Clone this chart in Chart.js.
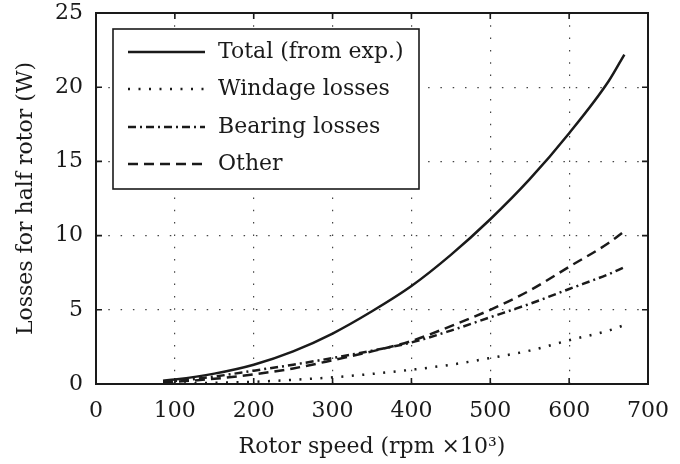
<!DOCTYPE html>
<html>
<head>
<meta charset="utf-8">
<script src="https://cdn.jsdelivr.net/npm/chart.js@4.4.0/dist/chart.umd.min.js"></script>
<style>
  html, body { margin: 0; padding: 0; background: #fff; }
  #wrap { width: 680px; height: 464px; }
</style>
</head>
<body>
<div id="wrap"><canvas id="lossChart" width="680" height="464"></canvas></div>
<script>
// rotor speed (rpm x10^3)
const speeds = [85, 100, 150, 200, 250, 300, 350, 400, 450, 500, 550, 600, 650, 670];
// losses for half rotor (W)
const totalLoss   = [0.22, 0.3, 0.7, 1.3, 2.2, 3.4, 4.9, 6.6, 8.7, 11.1, 13.8, 16.9, 20.4, 22.2];
const windageLoss = [0.02, 0.03, 0.08, 0.15, 0.28, 0.45, 0.68, 0.96, 1.3, 1.75, 2.25, 2.95, 3.6, 3.97];
const bearingLoss = [0.15, 0.2, 0.5, 0.9, 1.3, 1.75, 2.25, 2.8, 3.6, 4.5, 5.4, 6.4, 7.4, 7.87];
const otherLoss   = [0.1, 0.15, 0.35, 0.65, 1.05, 1.6, 2.2, 2.9, 3.9, 5.0, 6.3, 7.9, 9.5, 10.3];

const seriesLabels = ['Total (from exp.)', 'Windage losses', 'Bearing losses', 'Other'];
const xTicks = [0, 100, 200, 300, 400, 500, 600, 700];
const yTicks = [0, 5, 10, 15, 20, 25];

const FONT = 'DejaVu Serif';
const FSIZE = 22;
const INK = '#1a1a1a';

function toPoints(ys) {
    return speeds.map((s, i) => ({ x: s, y: ys[i] }));
}

function lineSet(label, ys, dash) {
    return {
        label: label,
        data: toPoints(ys),
        borderColor: INK,
        borderWidth: 2.5,
        borderDash: dash,
        borderCapStyle: 'butt',
        pointRadius: 0,
        fill: false,
        cubicInterpolationMode: 'monotone'
    };
}

// box around plot, inward tick marks, and the legend box
const framePlugin = {
    id: 'frame',
    afterDatasetsDraw(chart) {
        const ctx = chart.ctx;
        const a = chart.chartArea;
        const xs = chart.scales.x, ys = chart.scales.y;
        ctx.save();
        ctx.strokeStyle = INK;
        ctx.lineWidth = 1.6;
        ctx.setLineDash([]);
        ctx.beginPath();
        xTicks.forEach(v => {
            const px = xs.getPixelForValue(v);
            ctx.moveTo(px, a.bottom); ctx.lineTo(px, a.bottom - 6);
            ctx.moveTo(px, a.top); ctx.lineTo(px, a.top + 6);
        });
        yTicks.forEach(v => {
            const py = ys.getPixelForValue(v);
            ctx.moveTo(a.left, py); ctx.lineTo(a.left + 6, py);
            ctx.moveTo(a.right, py); ctx.lineTo(a.right - 6, py);
        });
        ctx.stroke();
        ctx.lineWidth = 2;
        ctx.strokeRect(a.left, a.top, a.right - a.left, a.bottom - a.top);

        // legend
        const lx = 113, ly = 29, lw = 306, lh = 160;
        ctx.fillStyle = '#fff';
        ctx.fillRect(lx, ly, lw, lh);
        ctx.lineWidth = 1.6;
        ctx.strokeRect(lx, ly, lw, lh);
        const rows = [52, 89, 127, 164];
        chart.data.datasets.forEach((ds, i) => {
            ctx.beginPath();
            ctx.lineWidth = ds.borderWidth;
            ctx.setLineDash(ds.borderDash || []);
            ctx.lineCap = 'butt';
            ctx.moveTo(128, rows[i]);
            ctx.lineTo(205, rows[i]);
            ctx.stroke();
            ctx.setLineDash([]);
            ctx.fillStyle = INK;
            ctx.font = FSIZE + 'px "' + FONT + '"';
            ctx.textBaseline = 'middle';
            ctx.textAlign = 'left';
            ctx.fillText(ds.label, 218, rows[i]);
        });
        ctx.restore();
    }
};

const ctx = document.getElementById('lossChart').getContext('2d');
new Chart(ctx, {
    type: 'line',
    data: {
        datasets: [
            lineSet(seriesLabels[0], totalLoss, []),
            lineSet(seriesLabels[1], windageLoss, [2, 8.5]),
            lineSet(seriesLabels[2], bearingLoss, [8, 4, 2, 4]),
            lineSet(seriesLabels[3], otherLoss, [10, 6])
        ]
    },
    options: {
        responsive: false,
        animation: false,
        layout: { padding: { left: 0, right: 32, top: 13, bottom: 4 } },
        plugins: {
            legend: { display: false },
            tooltip: { enabled: false }
        },
        scales: {
            x: {
                type: 'linear',
                min: 0,
                max: 700,
                afterBuildTicks: s => { s.ticks = xTicks.map(v => ({ value: v })); },
                afterFit: s => { s.height = 76; s.paddingLeft = 0; s.paddingRight = 0; },
                grid: { color: '#444', lineWidth: 1.2, drawTicks: false },
                border: { display: false, dash: [1.5, 10.8] },
                ticks: { color: INK, font: { family: FONT, size: FSIZE }, padding: 14, maxRotation: 0 },
                title: {
                    display: true,
                    text: 'Rotor speed (rpm \u00d710\u00b3)',
                    color: INK,
                    font: { family: FONT, size: FSIZE },
                    padding: { top: 2, bottom: 0 }
                }
            },
            y: {
                min: 0,
                max: 25,
                afterBuildTicks: s => { s.ticks = yTicks.map(v => ({ value: v })); },
                afterFit: s => { s.width = 96; s.paddingTop = 0; s.paddingBottom = 0; },
                grid: { color: '#444', lineWidth: 1.2, drawTicks: false },
                border: { display: false, dash: [1.5, 10.8] },
                ticks: { color: INK, font: { family: FONT, size: FSIZE }, padding: 13 },
                title: {
                    display: true,
                    text: 'Losses for half rotor (W)',
                    color: INK,
                    font: { family: FONT, size: FSIZE },
                    padding: { top: 13, bottom: 0 }
                }
            }
        }
    },
    plugins: [framePlugin]
});
</script>
</body>
</html>
